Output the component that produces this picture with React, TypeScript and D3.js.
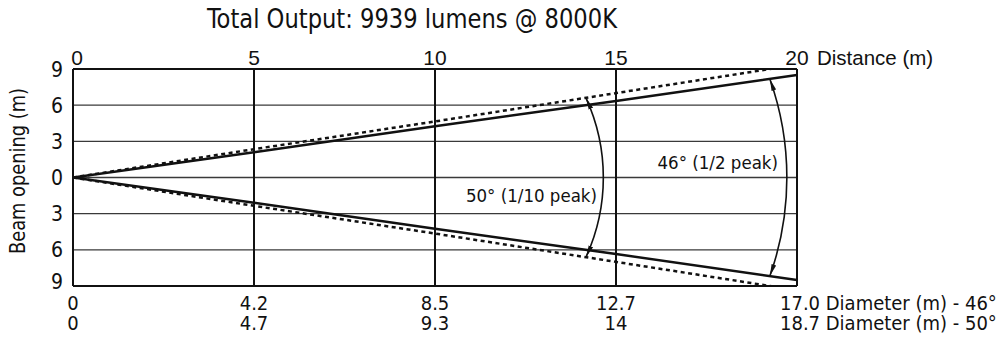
import React from "react";
import * as d3 from "d3";

const title = "Total Output: 9939 lumens @ 8000K";
const distances = [0, 5, 10, 15, 20];
const diameter46 = [0, 4.2, 8.5, 12.7, 17.0];
const diameter50 = [0, 4.7, 9.3, 14, 18.7];
const diameter46Labels = ["0", "4.2", "8.5", "12.7", "17.0"];
const diameter50Labels = ["0", "4.7", "9.3", "14", "18.7"];
const openingTicks = [-9, -6, -3, 0, 3, 6, 9];
const xAxisTitle = "Distance (m)";
const yAxisTitle = "Beam opening (m)";
const suffix46 = " Diameter (m) - 46°";
const suffix50 = " Diameter (m) - 50°";
// annotation arcs: distance where arc meets beam edge, distance of arc apex on axis
const arcLabels = ["50° (1/10 peak)", "46° (1/2 peak)"];
const arcEdgeDistance = [14.17, 19.25];
const arcApexDistance = [14.65, 19.72];

const W = 1006;
const H = 338;
const plot = { left: 73, right: 797, top: 69, bottom: 286 };

const TAHOMA = "'DejaVu Sans Condensed', 'DejaVu Sans', sans-serif";
const ARIAL = "'Liberation Sans', Arial, sans-serif";

export default function App() {
  const x = d3.scaleLinear().domain([0, 20]).range([plot.left, plot.right]);
  const y = d3.scaleLinear().domain([-9, 9]).range([plot.bottom, plot.top]);

  const half46 = diameter46.map((d) => d / 2);
  const half50 = diameter50.map((d) => d / 2);
  const line = d3
    .line<[number, number]>()
    .x((d) => x(d[0]))
    .y((d) => y(d[1]));

  const up46 = line(distances.map((d, i) => [d, half46[i]]));
  const lo46 = line(distances.map((d, i) => [d, -half46[i]]));
  const up50 = line(distances.map((d, i) => [d, half50[i]]));
  const lo50 = line(distances.map((d, i) => [d, -half50[i]]));

  const interp50 = d3.scaleLinear().domain(distances).range(half50);
  const interp46 = d3.scaleLinear().domain(distances).range(half46);
  const edgeFns = [interp50, interp46];

  const arcs = arcEdgeDistance.map((ed, i) => {
    const h = edgeFns[i](ed);
    const px = x(ed);
    const y1 = y(h);
    const y2 = y(-h);
    const hc = (y2 - y1) / 2;
    const s = x(arcApexDistance[i]) - px;
    const r = (hc * hc + s * s) / (2 * s);
    return { d: `M${px},${y1} A${r},${r} 0 0 1 ${px},${y2}` };
  });

  const last = distances.length - 1;

  return (
    <svg
      width={W}
      height={H}
      style={{ position: "absolute", left: 0, top: 0, background: "#fff" }}
    >
      <defs>
        <clipPath id="plotClip">
          <rect x={plot.left} y={plot.top} width={plot.right - plot.left} height={plot.bottom - plot.top} />
        </clipPath>
        <marker
          id="arrow"
          viewBox="0 0 12 6"
          refX={12}
          refY={3}
          markerWidth={12}
          markerHeight={6}
          markerUnits="userSpaceOnUse"
          orient="auto-start-reverse"
        >
          <path d="M0,0.6 L12,3 L0,5.4 Z" fill="#111" />
        </marker>
      </defs>

      <text
        x={207}
        y={28}
        fontFamily={TAHOMA}
        fontStretch="condensed"
        fontSize={27}
        textLength={410}
        lengthAdjust="spacingAndGlyphs"
        fill="#111"
      >
        {title}
      </text>

      {/* horizontal grid */}
      {openingTicks.map((t) => (
        <line key={"h" + t} x1={plot.left} x2={plot.right} y1={y(t)} y2={y(t)} stroke="#3a3a3a" strokeWidth={1.3} />
      ))}
      {/* vertical grid */}
      {distances.map((d) => (
        <line key={"v" + d} x1={x(d)} x2={x(d)} y1={plot.top} y2={plot.bottom} stroke="#111" strokeWidth={2} />
      ))}
      <line x1={plot.left} x2={plot.right} y1={plot.top} y2={plot.top} stroke="#111" strokeWidth={2} />
      <line x1={plot.left} x2={plot.right} y1={plot.bottom} y2={plot.bottom} stroke="#111" strokeWidth={2} />

      <g clipPath="url(#plotClip)">
        <path d={up50 || ""} fill="none" stroke="#111" strokeWidth={2.5} strokeDasharray="4,3.5" />
        <path d={lo50 || ""} fill="none" stroke="#111" strokeWidth={2.5} strokeDasharray="4,3.5" />
        <path d={up46 || ""} fill="none" stroke="#111" strokeWidth={2.5} />
        <path d={lo46 || ""} fill="none" stroke="#111" strokeWidth={2.5} />
      </g>

      {arcs.map((a, i) => (
        <path
          key={"arc" + i}
          d={a.d}
          fill="none"
          stroke="#111"
          strokeWidth={1.6}
          markerStart="url(#arrow)"
          markerEnd="url(#arrow)"
        />
      ))}

      <text x={597} y={202} textAnchor="end" fontFamily={TAHOMA} fontStretch="condensed" fontSize={18.5} fill="#111">
        {arcLabels[0]}
      </text>
      <text x={778} y={169} textAnchor="end" fontFamily={TAHOMA} fontStretch="condensed" fontSize={18.5} fill="#111">
        {arcLabels[1]}
      </text>

      {/* top distance labels */}
      {distances.map((d, i) => (
        <text
          key={"td" + d}
          x={i === 0 ? x(d) + 4 : x(d)}
          y={65}
          textAnchor="middle"
          fontFamily={ARIAL}
          fontSize={21}
          fill="#111"
        >
          {d}
        </text>
      ))}
      <text x={817} y={65} fontFamily={ARIAL} fontSize={20.5} fill="#111">
        {xAxisTitle}
      </text>

      {/* left opening labels */}
      {openingTicks.map((t) => (
        <text
          key={"yl" + t}
          x={63}
          y={t === -9 ? y(t) - 5 : y(t)}
          dy="0.36em"
          textAnchor="end"
          fontFamily={TAHOMA}
          fontStretch="condensed"
          fontSize={21}
          fill="#111"
        >
          {Math.abs(t)}
        </text>
      ))}
      <text
        transform={`translate(25,171) rotate(-90)`}
        textAnchor="middle"
        fontFamily={TAHOMA}
        fontStretch="condensed"
        fontSize={21}
        textLength={166}
        lengthAdjust="spacingAndGlyphs"
        fill="#111"
      >
        {yAxisTitle}
      </text>

      {/* bottom diameter labels */}
      {distances.map((d, i) => (
        <text
          key={"b46" + d}
          x={i === last ? x(d) - 17 : x(d)}
          y={310}
          textAnchor={i === last ? "start" : "middle"}
          fontFamily={TAHOMA}
          fontStretch="condensed"
          fontSize={20}
          fill="#111"
        >
          {diameter46Labels[i] + (i === last ? suffix46 : "")}
        </text>
      ))}
      {distances.map((d, i) => (
        <text
          key={"b50" + d}
          x={i === last ? x(d) - 17 : x(d)}
          y={330}
          textAnchor={i === last ? "start" : "middle"}
          fontFamily={TAHOMA}
          fontStretch="condensed"
          fontSize={20}
          fill="#111"
        >
          {diameter50Labels[i] + (i === last ? suffix50 : "")}
        </text>
      ))}
    </svg>
  );
}
